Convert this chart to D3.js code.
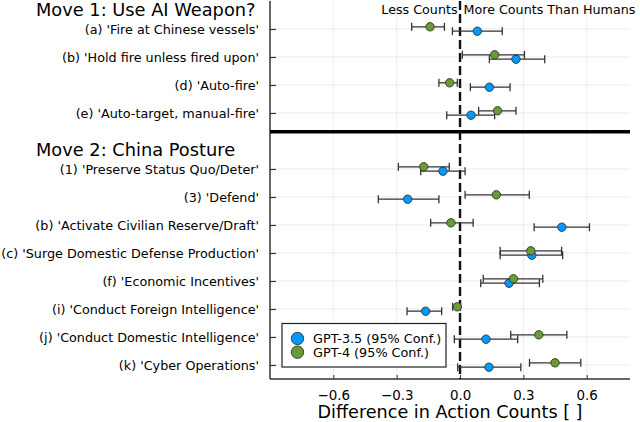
<!DOCTYPE html>
<html>
<head>
<meta charset="utf-8">
<script src="https://cdn.jsdelivr.net/npm/d3@7"></script>
<style>
  html, body { margin: 0; padding: 0; background: #fff; }
  svg text { font-family: "DejaVu Sans", sans-serif; fill: #000; }
</style>
</head>
<body>
<div id="chart"></div>
<script>
var width = 640,
	height = 422,
	plot = {left: 270, right: 630, top: 1, bottom: 379};

// row labels, top to bottom (headers sit on their own rows)
var move1Labels = ["(a) 'Fire at Chinese vessels'", "(b) 'Hold fire unless fired upon'",
	"(d) 'Auto-fire'", "(e) 'Auto-target, manual-fire'"];
var move2Labels = ["(1) 'Preserve Status Quo/Deter'", "(3) 'Defend'",
	"(b) 'Activate Civilian Reserve/Draft'", "(c) 'Surge Domestic Defense Production'",
	"(f) 'Economic Incentives'", "(i) 'Conduct Foreign Intelligence'",
	"(j) 'Conduct Domestic Intelligence'", "(k) 'Cyber Operations'"];
var headers = ["Move 1: Use AI Weapon?", "Move 2: China Posture"];

// GPT-3.5 mean and 95% interval per row (move 1 then move 2)
var gpt35Mean = [0.082, 0.265, 0.139, 0.052, -0.081, -0.248, 0.482, 0.340, 0.232, -0.163, 0.123, 0.137];
var gpt35Lo   = [-0.036, 0.139, 0.049, -0.063, -0.186, -0.387, 0.351, 0.190, 0.098, -0.251, -0.027, -0.011];
var gpt35Hi   = [0.200, 0.401, 0.237, 0.164, 0.024, -0.100, 0.613, 0.486, 0.376, -0.087, 0.273, 0.288];

// GPT-4 mean and 95% interval per row
var gpt4Mean = [-0.142, 0.164, -0.049, 0.178, -0.172, 0.172, -0.043, 0.335, 0.253, -0.013, 0.373, 0.450];
var gpt4Lo   = [-0.229, 0.011, -0.100, 0.088, -0.292, 0.024, -0.139, 0.190, 0.110, -0.035, 0.240, 0.329];
var gpt4Hi   = [-0.074, 0.305, -0.013, 0.265, -0.051, 0.328, 0.062, 0.481, 0.392, 0.002, 0.506, 0.572];

var xTicks = [-0.6, -0.3, 0, 0.3, 0.6];
var seriesNames = ["GPT-3.5 (95% Conf.)", "GPT-4 (95% Conf.)"];
var seriesColors = ["#009AFA", "#6A9B35"];

// row positions: header rows at 0 and 5
var labels = move1Labels.concat(move2Labels);
var rowPos = labels.map(function(d, i){ return i < move1Labels.length ? i + 1 : i + 2; });

var x = d3.scaleLinear().domain([-0.9, 0.805]).range([plot.left, plot.right]),
	y = d3.scaleLinear().domain([0, 13.5]).range([plot.top, plot.bottom]);

var svg = d3.select("#chart").append("svg")
	.attr("width", width)
	.attr("height", height)
	.style("background", "#fff");

// grid
svg.append("g").selectAll("line")
	.data(xTicks).enter()
	.append("line")
	.attr("x1", function(d){ return x(d); })
	.attr("x2", function(d){ return x(d); })
	.attr("y1", plot.top)
	.attr("y2", plot.bottom)
	.attr("stroke", "#000").attr("stroke-opacity", 0.1).attr("stroke-width", 0.8);

svg.append("g").selectAll("line")
	.data(rowPos).enter()
	.append("line")
	.attr("x1", plot.left)
	.attr("x2", plot.right)
	.attr("y1", function(d){ return y(d); })
	.attr("y2", function(d){ return y(d); })
	.attr("stroke", "#000").attr("stroke-opacity", 0.1).attr("stroke-width", 0.8);

// axes
var yAxis = d3.axisLeft(y)
	.tickValues(rowPos)
	.tickSize(-6)
	.tickPadding(11)
	.tickFormat(function(d, i){ return labels[i]; });

var gy = svg.append("g")
	.attr("transform", "translate(" + plot.left + ",0)")
	.call(yAxis);
gy.select(".domain").remove();
gy.selectAll(".tick line").attr("stroke", "#333").attr("stroke-width", 1.2);
gy.selectAll(".tick text").style("font-size", "12.75px").style("font-family", "DejaVu Sans");

var xAxis = d3.axisBottom(x)
	.tickValues(xTicks)
	.tickSize(-4)
	.tickPadding(11)
	.tickFormat(function(d){ return d3.format(".1f")(d).replace("-", "\u2212"); });

var gx = svg.append("g")
	.attr("transform", "translate(0," + plot.bottom + ")")
	.call(xAxis);
gx.select(".domain").remove();
gx.selectAll(".tick line").attr("stroke", "#333").attr("stroke-width", 1);
gx.selectAll(".tick text").style("font-size", "13.4px").style("font-family", "DejaVu Sans");

svg.append("line")
	.attr("x1", plot.left).attr("x2", plot.left)
	.attr("y1", plot.top).attr("y2", plot.bottom)
	.attr("stroke", "#333").attr("stroke-width", 1.5);
svg.append("line")
	.attr("x1", plot.left).attr("x2", plot.right)
	.attr("y1", plot.bottom).attr("y2", plot.bottom)
	.attr("stroke", "#333").attr("stroke-width", 1.5);

// separator between moves
svg.append("line")
	.attr("x1", plot.left).attr("x2", plot.right)
	.attr("y1", y(4.67)).attr("y2", y(4.67))
	.attr("stroke", "#000").attr("stroke-width", 3.6);

// zero line
svg.append("line")
	.attr("x1", x(0)).attr("x2", x(0))
	.attr("y1", plot.top).attr("y2", plot.bottom)
	.attr("stroke", "#111").attr("stroke-width", 2.4)
	.attr("stroke-dasharray", "9,4");

// headers
svg.selectAll("text.header")
	.data(headers).enter()
	.append("text")
	.attr("class", "header")
	.attr("x", 36)
	.attr("y", function(d, i){ return y(i * 5) + 14.5; })
	.style("font-size", "17.8px")
	.text(function(d){ return d; });

svg.append("text")
	.attr("x", x(0) - 2.5).attr("y", 14)
	.attr("text-anchor", "end")
	.style("font-size", "12.7px")
	.text("Less Counts");
svg.append("text")
	.attr("x", x(0) + 3.5).attr("y", 14)
	.style("font-size", "12.7px")
	.text("More Counts Than Humans");

svg.append("text")
	.attr("x", (plot.left + plot.right) / 2)
	.attr("y", 417.5)
	.attr("text-anchor", "middle")
	.style("font-size", "17.6px")
	.text("Difference in Action Counts [ ]");

// error bars and points
function drawSeries(mean, lo, hi, color, dy){
	var g = svg.append("g");
	var rows = mean.map(function(d, i){ return {m: d, lo: lo[i], hi: hi[i], p: rowPos[i]}; });

	g.selectAll("line.bar")
		.data(rows).enter()
		.append("line")
		.attr("x1", function(d){ return x(d.lo); })
		.attr("x2", function(d){ return x(d.hi); })
		.attr("y1", function(d){ return y(d.p) + dy; })
		.attr("y2", function(d){ return y(d.p) + dy; })
		.attr("stroke", "#333").attr("stroke-width", 1.3);

	["lo", "hi"].forEach(function(k){
		g.selectAll("line.cap-" + k)
			.data(rows).enter()
			.append("line")
			.attr("x1", function(d){ return x(d[k]); })
			.attr("x2", function(d){ return x(d[k]); })
			.attr("y1", function(d){ return y(d.p) + dy - 4; })
			.attr("y2", function(d){ return y(d.p) + dy + 4; })
			.attr("stroke", "#333").attr("stroke-width", 1.3);
	});

	g.selectAll("circle")
		.data(rows).enter()
		.append("circle")
		.attr("cx", function(d){ return x(d.m); })
		.attr("cy", function(d){ return y(d.p) + dy; })
		.attr("r", 4.2)
		.attr("fill", color)
		.attr("stroke", "#333").attr("stroke-width", 0.9);
}

drawSeries(gpt35Mean, gpt35Lo, gpt35Hi, seriesColors[0], 2.2);
drawSeries(gpt4Mean, gpt4Lo, gpt4Hi, seriesColors[1], -2.2);

// legend
var legend = svg.append("g");
legend.append("rect")
	.attr("x", 282).attr("y", 323.5)
	.attr("width", 164).attr("height", 43.5)
	.attr("fill", "#fff")
	.attr("stroke", "#222").attr("stroke-width", 1.2);

var items = legend.selectAll("g")
	.data(seriesNames).enter()
	.append("g")
	.attr("transform", function(d, i){ return "translate(297.5," + (338.5 + i * 13.7) + ")"; });
items.append("circle")
	.attr("r", 6.2)
	.attr("fill", function(d, i){ return seriesColors[i]; })
	.attr("stroke", "#333").attr("stroke-width", 0.9);
items.append("text")
	.attr("x", 15.5).attr("y", 4.5)
	.style("font-size", "12.8px")
	.text(function(d){ return d; });
</script>
</body>
</html>
